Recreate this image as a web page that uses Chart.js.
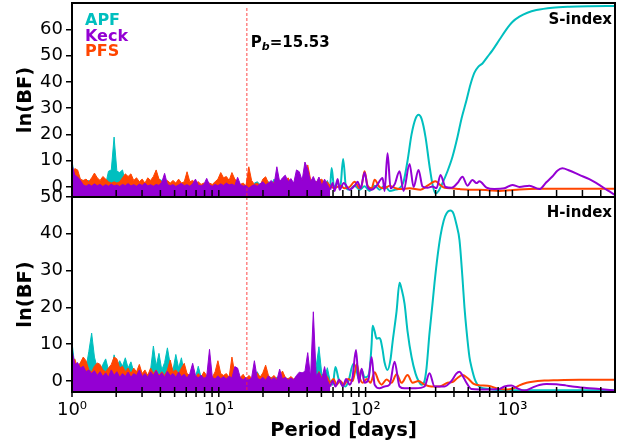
<!DOCTYPE html>
<html>
<head>
<meta charset="utf-8">
<script src="https://cdn.jsdelivr.net/npm/chart.js@4.4.0/dist/chart.umd.min.js"></script>
<style>
  html, body { margin: 0; padding: 0; background: #fff; }
  #wrap { position: relative; width: 636px; height: 447px; }
  canvas { position: absolute; left: 0; }
  #topCanvas { top: 0; }
  #botCanvas { top: 185px; }
</style>
</head>
<body>
<div id="wrap">
  <canvas id="topCanvas" width="636" height="200"></canvas>
  <canvas id="botCanvas" width="636" height="262"></canvas>
</div>
<script>
// period grid of the dense (noisy) part of the periodograms, days
const gridP = [
  1.000, 1.045, 1.092, 1.141, 1.193, 1.246, 1.302, 1.361, 1.422, 1.486,
  1.553, 1.623, 1.696, 1.772, 1.852, 1.935, 2.022, 2.113, 2.208, 2.308,
  2.411, 2.520, 2.633, 2.752, 2.876, 3.005, 3.140, 3.282, 3.429, 3.584,
  3.745, 3.913, 4.089, 4.274, 4.466, 4.667, 4.877, 5.096, 5.326, 5.565,
  5.816, 6.078, 6.351, 6.637, 6.936, 7.248, 7.574, 7.915, 8.271, 8.643,
  9.032, 9.439, 9.863, 10.31, 10.77, 11.26, 11.76, 12.29, 12.85, 13.43,
  14.03, 14.66, 15.32, 16.01, 16.73, 17.48, 18.27, 19.09, 19.95, 20.85,
  21.79, 22.77, 23.79, 24.86, 25.98, 27.15, 28.37, 29.65, 30.98, 32.38,
  33.83, 35.36, 36.95, 38.61, 40.35, 42.16, 44.06, 46.04, 48.11, 50.28,
  52.54, 54.90, 57.37
];

// ---- S-index panel ----
const sKeckNoise = [
  8.5, 4.5, 3.8, 2.5, 0.8, 0.3, 1.0, 0.4, 1.2, 0.5,
  1.0, 0.2, 0.9, 0.3, 1.1, 0.4, 0.8, 0.2, 1.0, 0.5,
  1.3, 0.4, 0.9, 0.3, 1.1, 0.6, 1.5, 0.4, 0.9, 0.3,
  1.0, 0.6, 1.8, 5.2, 1.0, 0.5, 0.9, 0.2, 0.8, 1.4,
  0.5, 0.9, 0.3, 1.2, 3.0, 0.7, 0.4, 1.0, 3.3, 0.8,
  0.3, 1.0, 0.5, 1.2, 0.6, 1.5, 0.8, 1.1, 0.5, 3.7,
  1.0, 0.3, 0.6, -0.5, 0.4, 0.9, 0.3, 1.2, 2.0, 0.8,
  1.5, 2.5, 1.0, 7.7, 2.0, 3.5, 4.5, 2.0, 3.2, 1.5,
  6.5, 5.8, 2.5, 9.5, 6.8, 2.0, 4.0, 1.5, 3.8, 0.5,
  3.0, 1.0, -1.0
];
const sPfsNoise = [
  5.0, 7.0, 6.5, 3.0, 2.5, 3.0, 2.0, 3.5, 5.3, 3.5,
  2.5, 4.0, 3.0, 2.0, 1.5, 2.0, 1.5, 2.0, 3.5, 5.0,
  4.0, 5.0, 2.5, 3.5, 2.0, 3.0, 1.5, 3.5, 2.5, 4.0,
  6.5, 3.0, 2.0, 1.5, 2.5, 1.5, 2.5, 1.5, 3.0, 1.5,
  2.0, 5.8, 2.0, 2.5, 1.5, 2.0, 1.0, 1.5, 0.5, 1.5,
  1.0, 2.0, 3.0, 5.5, 3.5, 4.0, 2.5, 5.5, 3.0, 2.0,
  1.0, 1.5, 0.5, 7.7, 2.5, 1.0, 1.5, 0.5, 3.0, 3.9,
  1.5, 1.0, 2.0, 1.0, 2.5, 1.5, 2.0, 3.5, 1.5, 1.0,
  2.0, 1.0, 3.0, 1.5, 8.4, 3.0, 1.5, 2.0, 2.5, 3.0,
  1.5, 2.0, 0.5
];
const sApfNoise = [
  10.0, 3.0, 2.0, 1.5, 2.5, 2.0, 2.5, 1.0, 2.0, 1.0,
  1.5, 0.5, 1.0, 6.0, 6.5, 19.0, 6.0, 5.5, 6.5, 2.0,
  1.0, 1.5, 0.8, 1.2, 0.5, 1.0, 0.4, 1.0, 0.5, 1.2,
  0.6, 3.0, 2.5, 1.0, 0.5, 1.0, 0.3, 0.8, 0.4, 1.0,
  0.3, 0.8, 0.5, 1.0, 0.4, 0.9, 0.3, 0.8, 0.4, 1.0,
  0.5, 1.2, 0.6, 2.0, 3.0, 2.8, 1.0, 1.5, 0.5, 1.0,
  0.3, 0.8, 0.2, 0.6, 0.2, 1.5, 2.0, 1.0, 2.2, 1.5,
  2.0, 1.0, 3.0, 1.0, 0.5, 1.5, 0.5, 1.0, 0.3, 0.8,
  0.2, 0.6, 0.3, 1.0, 0.5, 1.2, 0.4, 1.0, 0.5, 1.5,
  0.8, 2.5, -0.5
];
// long-period part: [period, ln(BF)]
const sKeckTail = [
  [57.37, -1.0], [59.7, 1.5], [61.5, -1.5], [64.5, 3.0], [66.5, -1.0], [71.0, 1.5],
  [77.8, -1.0], [84.2, 0.5], [88.2, 2.0], [92.5, -0.5], [98.4, 5.5], [103.2, 0.0],
  [109.9, -1.0], [118.8, 0.5], [130.5, 3.4], [134.7, -1.5], [141.1, 12.8], [148.0, -0.5],
  [157.6, 1.0], [170.3, 6.0], [181.4, -1.5], [199.3, 8.8], [212.2, 0.0], [229.4, 6.5],
  [244.2, 0.2], [264.1, -0.3], [285.6, 0.2], [304.1, -0.5], [323.8, 4.6], [350.3, 0.0],
  [384.6, -0.3], [422.6, 1.5], [457.0, 3.9], [494.3, 0.5], [534.4, 2.7], [569.0, 1.5],
  [596.5, 2.2], [665.6, -0.2], [754.5, -0.8], [882.2, -0.5], [1000, 0.8], [1116, 0.0],
  [1305, 0.5], [1527, -0.8], [1703, 1.8], [1872, 4.0], [2024, 6.2], [2188, 7.1],
  [2442, 6.3], [2857, 4.6], [3341, 3.0], [3907, 0.8], [4429, -1.2], [5000, -3.0]
];
const sPfsTail = [
  [57.37, 0.5], [61.1, -0.5], [67.1, 0.5], [72.0, -0.5], [77.8, 0.0], [84.2, 2.0],
  [91.0, -0.5], [94.0, 0.5], [98.4, 6.0], [103.2, 0.5], [109.9, -0.5], [115.2, 2.8],
  [124.5, 0.0], [134.7, -0.5], [145.7, 0.5], [160.0, -0.5], [170.3, -0.8], [199.3, -0.5],
  [236.7, -1.0], [264.1, 0.5], [285.6, 1.8], [299.4, 2.2], [318.7, 1.0], [344.8, -0.3],
  [384.6, -0.5], [436.1, -0.8], [510, -1.0], [596.5, -1.0], [700, -1.3], [816, -1.5],
  [954, -1.2], [1116, -0.9], [1527, -0.7], [2500, -0.7], [5000, -0.7]
];
const sApfTail = [
  [57.37, -0.5], [58.7, 7.2], [61.1, -0.5], [64.5, 2.0], [67.1, -0.5], [70.3, 10.7],
  [73.7, -0.5], [77.8, -1.0], [84.2, 0.5], [91.0, -1.0], [98.4, 0.3], [106.5, -1.5],
  [115.2, 0.5], [124.5, -1.0], [134.7, 0.5], [145.7, -1.5], [160.0, -1.0], [170.3, -0.5],
  [181.4, 2.0], [193.1, 10.0], [205.6, 20.0], [218.9, 26.0], [229.4, 27.5], [240.4, 26.0],
  [256.0, 19.0], [272.5, 8.0], [285.6, 1.0], [299.4, -2.5], [313.8, -1.5], [334.1, 1.5],
  [361.3, 6.0], [390.7, 11.5], [422.6, 19.0], [450.0, 26.0], [486.6, 33.0], [518.0, 39.0],
  [551.4, 43.5], [587.2, 45.8], [625.1, 47.0], [676.0, 49.5], [731.0, 52.0], [815.8, 56.0],
  [910.4, 60.0], [1000, 62.8], [1116, 64.8], [1265, 66.3], [1457, 67.3], [1872, 68.2],
  [2442, 68.6], [3341, 68.8], [5000, 68.9]
];

// ---- H-index panel ----
const hKeckNoise = [
  8.4, 4.5, 5.0, 3.5, 4.0, 2.5, 3.0, 2.0, 2.8, 1.5,
  2.5, 1.2, 2.2, 1.0, 3.0, 1.5, 2.5, 1.0, 2.0, 1.2,
  2.4, 1.0, 2.0, 1.5, 3.0, 1.2, 2.0, 1.0, 2.5, 1.5,
  2.8, 1.2, 2.2, 1.0, 2.6, 1.4, 2.0, 1.0, 2.4, 1.2,
  1.8, 0.8, 2.0, 4.8, 1.5, 0.8, 1.6, 0.7, 1.2, 8.6,
  1.0, 0.5, 1.4, 0.6, 1.2, 0.5, 1.3, 0.8, 3.9, 3.5,
  0.8, 0.3, 1.0, 0.2, 0.9, 5.5, 0.8, 0.3, 1.0, 0.2,
  1.4, 0.3, 0.9, 0.2, 3.2, 0.5, 1.0, 0.2, 0.8, 0.3,
  1.5, 2.4, 2.2, 2.6, 7.7, 1.0, 18.8, 1.5, 2.3, 0.5,
  3.9, 0.2, -1.5
];
const hPfsNoise = [
  4.0, 6.0, 3.5, 5.0, 6.5, 5.5, 3.0, 2.5, 4.0, 4.9,
  4.5, 3.0, 2.5, 3.5, 4.5, 6.5, 6.0, 3.5, 4.0, 2.5,
  3.5, 2.0, 3.5, 2.5, 4.5, 2.0, 3.0, 1.5, 3.5, 2.0,
  3.0, 1.5, 2.5, 1.5, 3.0, 5.7, 2.5, 3.0, 2.0, 3.5,
  4.8, 2.0, 1.5, 2.5, 1.0, 2.0, 1.0, 2.5, 1.5, 2.0,
  1.0, 2.5, 5.5, 2.0, 1.5, 2.0, 1.0, 6.5, 2.0, 1.5,
  1.0, 1.8, 0.5, 1.5, 0.8, 1.5, 2.2, 1.0, 2.2, 4.3,
  1.5, 0.8, 1.5, 0.5, 1.2, 2.7, 1.0, 0.5, 1.2, 0.5,
  1.2, 0.5, 1.0, 0.5, 1.5, 0.5, 1.0, 0.5, 2.6, 1.0,
  0.5, 1.2, -0.5
];
const hApfNoise = [
  10.5, 4.0, 3.0, 5.0, 4.5, 3.5, 8.0, 13.0, 6.5, 3.5,
  2.5, 4.5, 6.0, 3.0, 2.0, 7.1, 4.0, 5.5, 4.0, 6.3,
  3.5, 5.2, 2.5, 1.5, 2.0, 1.0, 2.5, 1.5, 3.0, 9.5,
  4.0, 7.5, 3.0, 5.0, 9.0, 4.5, 3.0, 7.2, 3.5, 6.3,
  2.0, 1.5, 1.0, 1.5, 1.0, 4.0, 1.0, 0.5, 1.5, 0.5,
  1.0, 0.3, 1.0, 0.5, 1.2, 0.3, 1.0, 0.5, 1.0, 0.3,
  -0.5, 0.2, 0.0, 1.0, 0.5, 1.5, 2.5, 1.0, 0.5, 1.5,
  0.5, 1.0, 0.3, 1.0, 0.5, 0.8, 0.2, 0.8, 0.3, 0.5,
  0.2, 1.0, 0.5, 1.5, 1.0, 2.0, 1.0, 4.0, 9.3, 2.0,
  1.0, 3.6, 0.0
];
const hKeckTail = [
  [57.37, -1.5], [59.7, 0.0], [62.3, -1.5], [66.0, 0.3], [70.0, -1.5], [73.7, 0.5],
  [77.8, -1.0], [81.5, 1.0], [86.0, 8.4], [90.0, -0.5], [94.0, 3.3], [98.4, -0.5],
  [104.7, 0.5], [109.9, 6.5], [115.2, -1.0], [124.5, -2.0], [134.7, -1.5], [145.7, -1.0],
  [157.6, 5.2], [170.3, -1.5], [184.2, -2.0], [218.9, -2.0], [252.0, -1.5], [272.5, 2.1],
  [294.7, -1.5], [344.8, -1.5], [384.6, 0.0], [415.0, 2.0], [436.1, 2.5], [457.0, 1.5],
  [486.6, -0.5], [526.1, -2.2], [596.5, -2.3], [700, -2.3], [816, -2.2], [882, -1.5],
  [984, -1.2], [1080, -2.0], [1207, -2.6], [1368, -1.8], [1527, -1.1], [1703, -0.8],
  [1992, -0.9], [2300, -1.2], [2561, -1.5], [3187, -1.9], [3907, -2.2], [5000, -2.6]
];
const hPfsTail = [
  [57.37, -0.5], [60.5, 0.5], [63.5, -1.0], [67.1, 0.0], [71.5, -1.0], [76.0, 0.5],
  [81.5, 0.0], [84.2, 2.0], [87.0, 4.6], [91.0, 1.0], [95.5, -0.5], [102.0, 0.5],
  [108.0, -0.5], [115.2, 2.4], [122.5, 0.0], [128.5, -1.0], [139.0, 0.4], [150.0, -0.5],
  [162.6, 1.8], [175.8, -0.5], [193.1, 1.6], [208.8, -0.5], [229.4, 0.0], [252.0, -1.0],
  [280.0, -1.5], [318.7, -1.5], [361.3, -0.5], [390.7, -0.3], [422.6, 0.8], [457.0, 1.6],
  [494.3, 0.8], [545, -0.8], [596.5, -1.2], [680, -1.3], [816, -2.2], [930, -2.3],
  [1050, -1.8], [1116, -1.2], [1250, -0.5], [1368, -0.2], [1650, 0.1], [1992, 0.2],
  [2857, 0.3], [5000, 0.3]
];
const hApfTail = [
  [57.37, 0.0], [59.7, -1.0], [62.3, 3.8], [65.5, 0.5], [69.0, -1.0], [73.0, -1.5],
  [76.5, 0.0], [82.5, 4.6], [86.0, 3.5], [90.0, 0.5], [94.0, 3.0], [98.4, 1.0],
  [103.2, 1.2], [106.5, 3.0], [109.9, 10.0], [111.6, 15.0], [115.2, 13.5], [118.8, 11.5],
  [124.5, 11.7], [126.5, 11.2], [130.5, 8.5], [134.7, 5.0], [141.1, 3.0], [148.0, 6.0],
  [152.6, 10.5], [162.6, 19.0], [170.3, 26.7], [175.8, 25.0], [184.2, 21.0], [193.1, 13.5],
  [205.6, 6.5], [218.9, 2.0], [229.4, 0.0], [240.4, -1.0], [252.0, 0.0], [260.0, 3.5],
  [272.5, 13.0], [285.6, 21.0], [294.7, 26.6], [308.9, 33.8], [323.8, 39.5], [340, 43.5],
  [355.6, 45.5], [378.6, 46.3], [397, 45.5], [416, 42.5], [436.1, 38.3], [457.0, 28.0],
  [471.6, 20.0], [486.6, 13.9], [510, 6.5], [526.1, 3.8], [560, 0.0], [596.5, -1.6],
  [700, -2.2], [816, -2.5], [5000, -2.5]
];

// axes
const xTicks = [1, 2, 3, 4, 5, 6, 7, 8, 9, 10, 20, 30, 40, 50, 60, 70, 80, 90,
  100, 200, 300, 400, 500, 600, 700, 800, 900, 1000, 2000, 3000, 4000];
const xTickLabels = { 1: '10⁰', 10: '10¹', 100: '10²', 1000: '10³' };
const topYTicks = [0, 10, 20, 30, 40, 50, 60];
const botYTicks = [0, 10, 20, 30, 40, 50];
const PB = 15.53;

const COLORS = { APF: '#00bfbf', Keck: '#9400d3', PFS: '#ff4500' };
const FONT = "'DejaVu Sans', sans-serif";
const tickFont = { family: FONT, size: 18 };
const labelFont = { family: FONT, size: 19.5, weight: 'bold' };

function gridPoints(vals) {
  return gridP.map((p, i) => ({ x: p, y: vals[i] }));
}
function pairPoints(list) {
  return list.map(([p, v]) => ({ x: p, y: v }));
}

function noiseSet(name, vals) {
  return {
    label: name, data: gridPoints(vals),
    borderColor: COLORS[name], backgroundColor: COLORS[name],
    borderWidth: 1, fill: 'start', pointRadius: 0, tension: 0
  };
}
function tailSet(name, list) {
  return {
    label: name, data: pairPoints(list),
    borderColor: COLORS[name], borderWidth: 2, fill: false,
    pointRadius: 0, cubicInterpolationMode: 'monotone'
  };
}

// frame, x tick marks, dashed P_b line and panel texts
function panelPlugin(isTop) {
  return {
    id: 'panel',
    afterDraw(chart) {
      const { ctx, chartArea: a } = chart;
      const xs = chart.scales.x;
      ctx.save();

      // dashed line at P_b
      const px = xs.getPixelForValue(PB);
      ctx.strokeStyle = 'rgba(255, 40, 40, 0.85)';
      ctx.lineWidth = 1;
      ctx.setLineDash([3, 2]);
      ctx.beginPath();
      ctx.moveTo(px, isTop ? a.top + 5 : a.top);
      ctx.lineTo(px, a.bottom);
      ctx.stroke();
      ctx.setLineDash([]);

      // x tick marks
      ctx.strokeStyle = '#000';
      ctx.lineWidth = 1.5;
      xTicks.forEach(v => {
        const x = xs.getPixelForValue(v);
        ctx.beginPath();
        if (isTop) {
          ctx.moveTo(x, a.bottom);
          ctx.lineTo(x, a.bottom - 7);
        } else {
          ctx.moveTo(x, a.bottom - 5);
          ctx.lineTo(x, a.bottom + 5);
        }
        ctx.stroke();
      });

      // frame
      ctx.lineWidth = 2;
      ctx.strokeRect(a.left, a.top, a.right - a.left, a.bottom - a.top);

      // texts
      ctx.textBaseline = 'alphabetic';
      if (isTop) {
        ctx.font = `bold 16px ${FONT}`;
        ctx.textAlign = 'left';
        ['APF', 'Keck', 'PFS'].forEach((name, i) => {
          ctx.fillStyle = COLORS[name];
          ctx.fillText(name, a.left + 13, a.top + 22 + i * 15.5);
        });

        ctx.fillStyle = '#000';
        let tx = px + 4;
        const ty = a.top + 44;
        ctx.font = `bold 15px ${FONT}`;
        ctx.fillText('P', tx, ty);
        tx += ctx.measureText('P').width;
        ctx.font = `italic bold 11px ${FONT}`;
        ctx.fillText('b', tx, ty + 3);
        tx += ctx.measureText('b').width;
        ctx.font = `bold 15px ${FONT}`;
        ctx.fillText('=' + PB.toFixed(2), tx, ty);

        ctx.textAlign = 'right';
        ctx.fillText('S-index', a.right - 3, a.top + 21);
      } else {
        ctx.fillStyle = '#000';
        ctx.font = `bold 15px ${FONT}`;
        ctx.textAlign = 'right';
        ctx.fillText('H-index', a.right - 3, a.top + 20);
      }
      ctx.restore();
    }
  };
}

function makeChart(canvasId, isTop, sets, yMin, yMax, yTicks) {
  const xScale = {
    type: 'logarithmic', min: 1, max: 5000,
    afterBuildTicks: s => { s.ticks = xTicks.map(v => ({ value: v })); },
    afterFit: s => {
      s.height = isTop ? 3 : 55;
      s.paddingLeft = 0; s.paddingRight = 0;
    },
    grid: { display: false, drawTicks: true, tickLength: 5 },
    border: { display: false },
    ticks: {
      display: !isTop, autoSkip: false, maxRotation: 0,
      font: tickFont, color: '#000', padding: 3,
      callback: v => xTickLabels[v] || ''
    },
    title: {
      display: !isTop, text: 'Period [days]', font: labelFont, color: '#000',
      padding: { top: 0, bottom: 4 }
    }
  };
  return new Chart(document.getElementById(canvasId), {
    type: 'line',
    data: { datasets: sets },
    options: {
      responsive: false,
      animation: false,
      layout: { padding: { left: 0, right: 21, top: isTop ? 3 : 12, bottom: 0 } },
      plugins: { legend: { display: false }, tooltip: { enabled: false } },
      scales: {
        x: xScale,
        y: {
          min: yMin, max: yMax,
          afterBuildTicks: s => { s.ticks = yTicks.map(v => ({ value: v })); },
          afterFit: s => { s.width = 72; s.paddingTop = 0; s.paddingBottom = 0; },
          grid: { drawOnChartArea: false, tickLength: 6, color: '#000', lineWidth: 1.5 },
          border: { display: false },
          ticks: { font: tickFont, color: '#000', padding: 3 },
          title: {
            display: true, text: 'ln(BF)', font: labelFont, color: '#000',
            padding: { top: 14, bottom: 0 }
          }
        }
      }
    },
    plugins: [panelPlugin(isTop)]
  });
}

// dataset 0 is drawn on top: Keck over PFS over APF
makeChart('topCanvas', true, [
  noiseSet('Keck', sKeckNoise), tailSet('Keck', sKeckTail),
  noiseSet('PFS', sPfsNoise), tailSet('PFS', sPfsTail),
  noiseSet('APF', sApfNoise), tailSet('APF', sApfTail)
], -3.8, 70, topYTicks);

makeChart('botCanvas', false, [
  noiseSet('Keck', hKeckNoise), tailSet('Keck', hKeckTail),
  noiseSet('PFS', hPfsNoise), tailSet('PFS', hPfsTail),
  noiseSet('APF', hApfNoise), tailSet('APF', hApfTail)
], -3, 50, botYTicks);
</script>
</body>
</html>
